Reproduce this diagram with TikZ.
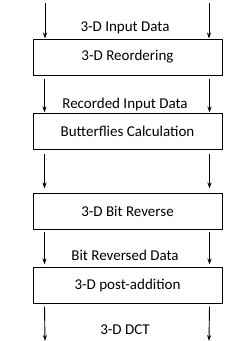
\documentclass[tikz,border=0pt]{standalone}
\usepackage{fontspec}
\setmainfont{Carlito}
\usetikzlibrary{arrows.meta,positioning}

\begin{document}
\begin{tikzpicture}[
  x=1pt, y=1pt,
  node distance=37pt,
  stage/.style={draw, line width=1pt, minimum width=189pt, minimum height=36pt, inner sep=0pt, font=\fontsize{15}{17}\selectfont},
  lbl/.style={inner sep=1pt, font=\fontsize{15}{17}\selectfont},
  arr/.style={-{Stealth[length=6pt,width=4pt]}, line width=0.9pt}
]
\useasboundingbox (0,0) rectangle (250,-341);
\node[stage] (reorder) at (127.5,-57) {3-D Reordering};
\node[stage, below=of reorder] (bfly) {Butterflies Calculation};
\node[stage, below=43pt of bfly] (bitrev) {3-D Bit Reverse};
\node[stage, below=of bitrev] (post) {3-D post-addition};

\node[lbl] (indata) at (125,-28) {3-D Input Data};
\node[lbl] (recdata) at (125,-104) {Recorded Input Data};
\node[lbl] (revdata) at (125,-255) {Bit Reversed Data};
\node[lbl] (dct) at (125,-330) {3-D DCT};

\coordinate (inL) at (45,-3);
\coordinate (inR) at (209,-3);
\coordinate (outL) at (45,-341);
\coordinate (outR) at (209,-341);

\draw[arr] (inL) -- (inL |- reorder.north);
\draw[arr] (inR) -- (inR |- reorder.north);
\draw[arr] ([xshift=12pt,yshift=-3pt]reorder.south west) -- ([xshift=12pt]bfly.north west);
\draw[arr] ([xshift=-13pt,yshift=-3pt]reorder.south east) -- ([xshift=-13pt]bfly.north east);
\draw[arr] ([xshift=12pt,yshift=-4pt]bfly.south west) -- ([xshift=12pt,yshift=4pt]bitrev.north west);
\draw[arr] ([xshift=-13pt,yshift=-4pt]bfly.south east) -- ([xshift=-13pt,yshift=4pt]bitrev.north east);
\draw[arr] ([xshift=12pt,yshift=-2pt]bitrev.south west) -- ([xshift=12pt,yshift=2pt]post.north west);
\draw[arr] ([xshift=-13pt,yshift=-2pt]bitrev.south east) -- ([xshift=-13pt,yshift=2pt]post.north east);
\draw[arr] ([xshift=12pt,yshift=-3pt]post.south west) -- (outL);
\draw[arr] ([xshift=-13pt,yshift=-3pt]post.south east) -- (outR);
\end{tikzpicture}
\end{document}
